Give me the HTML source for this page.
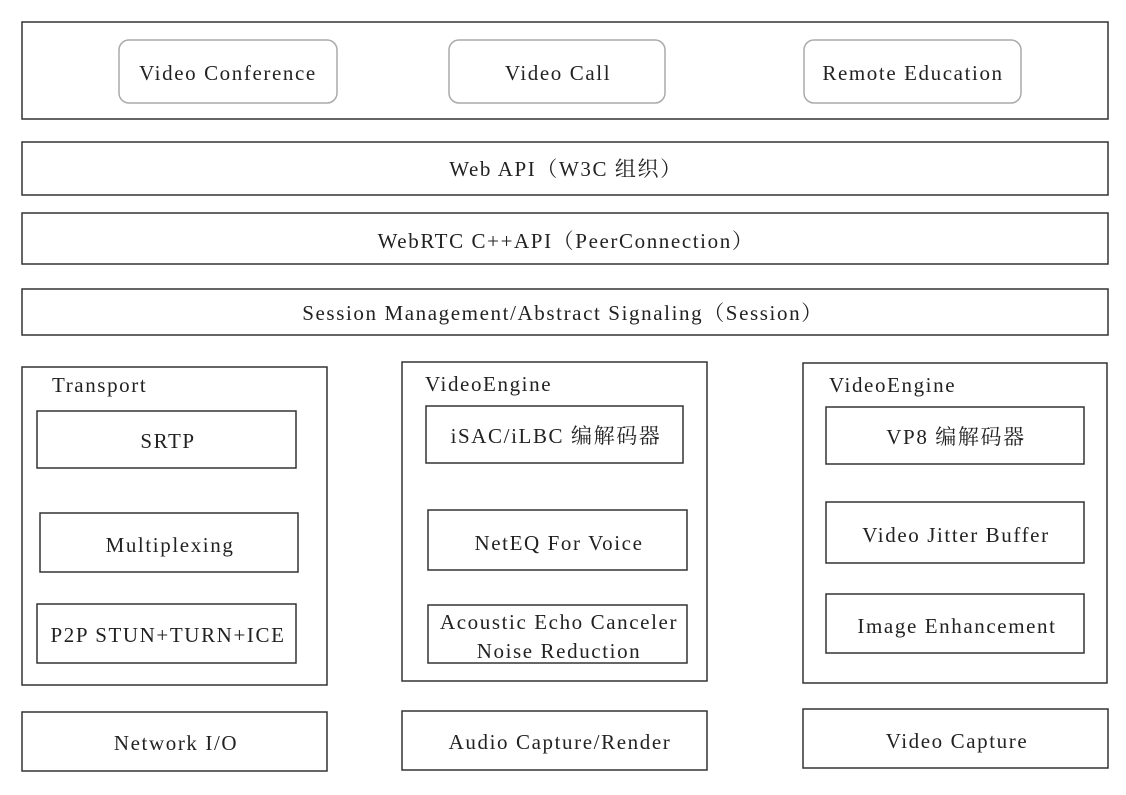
<!DOCTYPE html>
<html><head><meta charset="utf-8"><style>
body{margin:0;background:#fff;}
svg text{font-family:"Liberation Serif","Noto Serif CJK SC",serif;font-size:21px;letter-spacing:1.6px;fill:#222;}
</style></head><body>
<svg width="1126" height="790" xmlns="http://www.w3.org/2000/svg">
<g fill="none" stroke="#333" stroke-width="1.5">
<rect x="22" y="22" width="1086" height="97"/>
<rect x="22" y="142" width="1086" height="53"/>
<rect x="22" y="213" width="1086" height="51"/>
<rect x="22" y="289" width="1086" height="46"/>
<rect x="22" y="367" width="305" height="318"/>
<rect x="37" y="411" width="259" height="57"/>
<rect x="40" y="513" width="258" height="59"/>
<rect x="37" y="604" width="259" height="59"/>
<rect x="402" y="362" width="305" height="319"/>
<rect x="426" y="406" width="257" height="57"/>
<rect x="428" y="510" width="259" height="60"/>
<rect x="428" y="605" width="259" height="58"/>
<rect x="803" y="363" width="304" height="320"/>
<rect x="826" y="407" width="258" height="57"/>
<rect x="826" y="502" width="258" height="61"/>
<rect x="826" y="594" width="258" height="59"/>
<rect x="22" y="712" width="305" height="59"/>
<rect x="402" y="711" width="305" height="59"/>
<rect x="803" y="709" width="305" height="59"/>
</g>
<g fill="none" stroke="#aaa" stroke-width="1.5">
<rect x="119" y="40" width="218" height="63" rx="10"/>
<rect x="449" y="40" width="216" height="63" rx="10"/>
<rect x="804" y="40" width="217" height="63" rx="10"/>
</g>
<g text-anchor="middle">
<text x="228" y="80">Video Conference</text>
<text x="558" y="80">Video Call</text>
<text x="913" y="80">Remote Education</text>
<text x="566" y="176">Web API（W3C 组织）</text>
<text x="566" y="248">WebRTC C++API（PeerConnection）</text>
<text x="563" y="320">Session Management/Abstract Signaling（Session）</text>
<text x="168" y="448">SRTP</text>
<text x="170" y="552">Multiplexing</text>
<text x="168" y="642">P2P STUN+TURN+ICE</text>
<text x="556" y="443">iSAC/iLBC 编解码器</text>
<text x="559" y="550">NetEQ For Voice</text>
<text x="559" y="629">Acoustic Echo Canceler</text>
<text x="559" y="658">Noise Reduction</text>
<text x="956" y="444">VP8 编解码器</text>
<text x="956" y="542">Video Jitter Buffer</text>
<text x="957" y="633">Image Enhancement</text>
<text x="176" y="750">Network I/O</text>
<text x="560" y="749">Audio Capture/Render</text>
<text x="957" y="748">Video Capture</text>
</g>
<text x="52" y="392">Transport</text>
<text x="425" y="391">VideoEngine</text>
<text x="829" y="392">VideoEngine</text>
</svg>
</body></html>
